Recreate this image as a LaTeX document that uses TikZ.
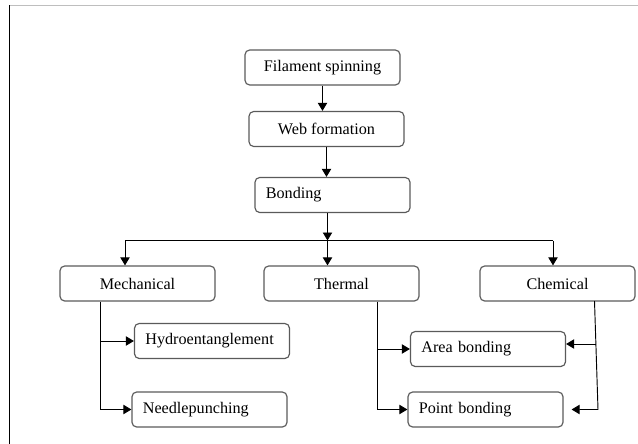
\documentclass[tikz,border=0pt]{standalone}
\usepackage{fontspec}
\setmainfont{Liberation Serif}
\usetikzlibrary{arrows.meta}
\definecolor{boxgray}{RGB}{90,90,90}
\definecolor{framegray}{RGB}{190,190,190}

\begin{document}
\begin{tikzpicture}[x=0.03cm, y=-0.03cm,
    box/.style={draw=boxgray, line width=1pt, rounded corners=4pt,
      minimum width=4.65cm, minimum height=1.05cm, inner sep=0pt,
      font=\fontsize{13.8}{16}\selectfont},
    leftbox/.style={box, text width=4.0cm, align=left, inner xsep=0.325cm},
    wire/.style={line width=0.8pt},
    link/.style={wire, -{Triangle[length=2.4mm, width=2.8mm]}}]
  \useasboundingbox (0, 0) rectangle (638, 444);

  \draw[framegray, line width=0.8pt] (9, 5) -- (638, 5);
  \draw[line width=1pt] (9.5, 5) -- (9.5, 444);

  \node[box]     (spin)   at (322.5,  67.5) {Filament spinning};
  \node[box]     (web)    at (326.5, 129)   {Web formation};
  \node[leftbox] (bond)   at (332.5, 195)   {Bonding};

  \node[box]     (mech)   at (137.5, 283.5) {Mechanical};
  \node[box]     (therm)  at (341.5, 283.5) {Thermal};
  \node[box]     (chem)   at (557.5, 283.5) {Chemical};

  \node[leftbox] (hydro)  at (212,   341)   {Hydroentanglement};
  \node[leftbox] (needle) at (209.5, 409.5) {Needlepunching};
  \node[leftbox] (area)   at (488,   349)   {Area bonding};
  \node[leftbox] (point)  at (485.5, 409.5) {Point bonding};

  \coordinate (split)    at (327.5, 240.5);
  \coordinate (mechin)   at (125,   240.5);
  \coordinate (chemin)   at (553,   240.5);
  \coordinate (mechbus)  at (100,   409.5);
  \coordinate (thermbus) at (377,   409.5);
  \coordinate (chemtop)  at (594.5, 301);
  \coordinate (chemtap)  at (596,   344);
  \coordinate (chembus)  at (598,   409.5);

  \draw[link] (spin.south) -- (spin.south |- web.north);
  \draw[link] (web.south) -- (web.south |- bond.north);
  \draw[link] (split |- bond.south) -- (split);
  \draw[link] (split) -- (split |- therm.north);

  \draw[wire] (mechin) -- (chemin);
  \draw[link] (mechin) -- (mechin |- mech.north);
  \draw[link] (chemin) -- (chemin |- chem.north);

  \draw[link] (mechbus |- mech.south) -- (mechbus) -- (needle.west);
  \draw[link] (mechbus |- hydro.west) -- (hydro.west);

  \draw[link] (thermbus |- therm.south) -- (thermbus) -- (point.west);
  \draw[link] (thermbus |- area.west) -- (area.west);

  \draw[link, shorten >=0.24cm] (chemtop) -- (chembus) -- (point.east);
  \draw[link] (chemtap) -- (area.east |- chemtap);
\end{tikzpicture}
\end{document}
